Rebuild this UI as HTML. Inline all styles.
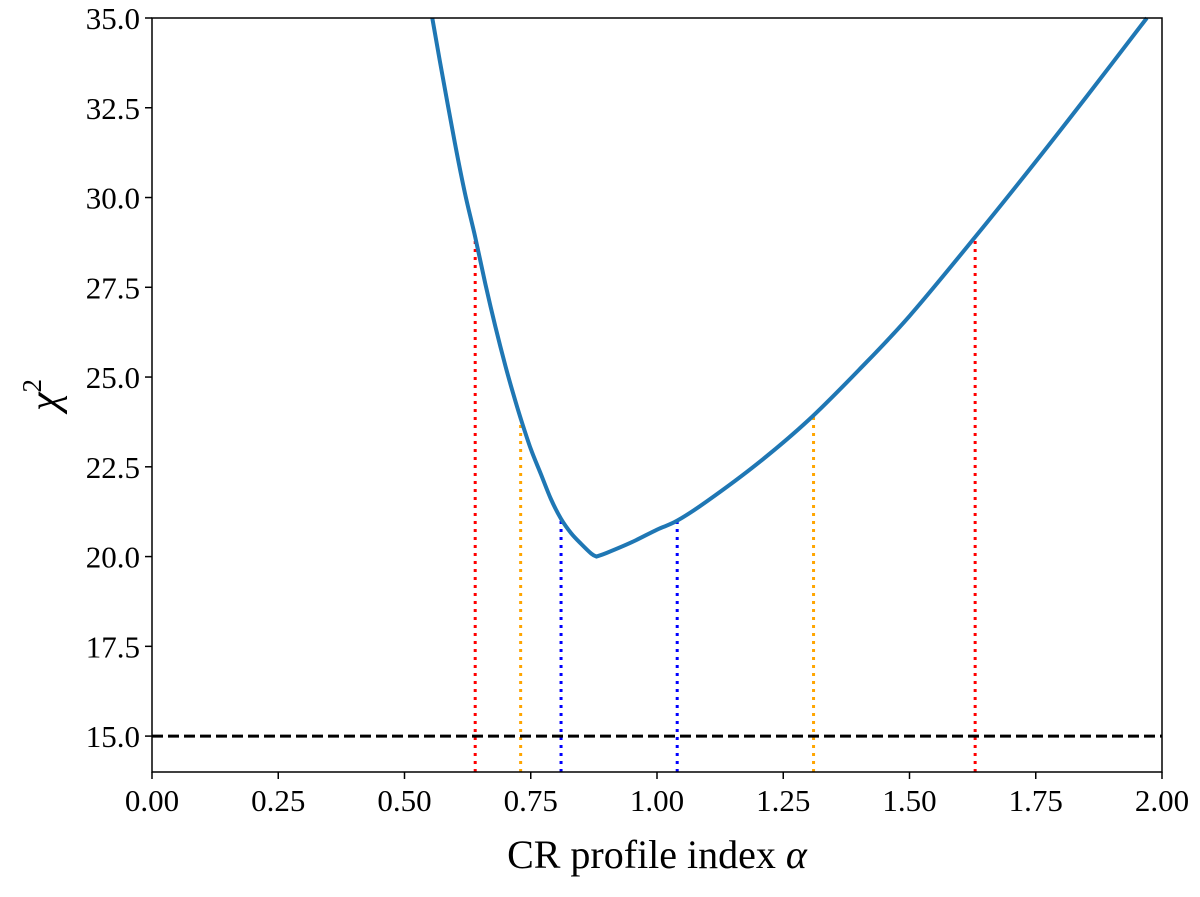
<!DOCTYPE html>
<html><head><meta charset="utf-8"><style>
body{margin:0;background:#fff}
svg text{font-family:"Liberation Serif",serif;fill:#000}
</style></head><body>
<svg id="chart" width="1200" height="892">
<g id="marks"></g>
<g id="axes"></g>
</svg>
<script>
const curveX=[0.555,0.57,0.60,0.62,0.64,0.66,0.68,0.70,0.715,0.73,0.75,0.77,0.79,0.81,0.83,0.85,0.87,0.88];
const curveY=[35.0,33.8,31.5,30.1,28.9,27.6,26.4,25.3,24.55,23.85,23.0,22.3,21.6,21.05,20.65,20.35,20.08,20.0];
const curve2X=[0.88,0.90,0.95,1.00,1.04,1.10,1.20,1.30,1.40,1.50,1.63,1.75,1.85,1.97];
const curve2Y=[20.0,20.1,20.4,20.75,21.0,21.55,22.6,23.8,25.2,26.7,28.9,31.0,32.8,35.0];
const vlineX=[0.64,1.63,0.73,1.31,0.81,1.04];
const vlineTop=[28.9,28.9,23.9,24.0,21.0,21.0];
const vlineColor=['#ff0000','#ff0000','#ffa500','#ffa500','#0000ff','#0000ff'];
const refLevel=15;
const xTicks=[0,0.25,0.5,0.75,1.0,1.25,1.5,1.75,2.0];
const xTickLabels=['0.00','0.25','0.50','0.75','1.00','1.25','1.50','1.75','2.00'];
const yTicks=[15,17.5,20,22.5,25,27.5,30,32.5,35];
const yTickLabels=['15.0','17.5','20.0','22.5','25.0','27.5','30.0','32.5','35.0'];
const L=152,R=1162,T=18,B=772,xmin=0,xmax=2,ymin=14,ymax=35;
const X=v=>L+(v-xmin)/(xmax-xmin)*(R-L);
const Y=v=>B-(v-ymin)/(ymax-ymin)*(B-T);
const NS='http://www.w3.org/2000/svg';
const marks=document.getElementById('marks'),axes=document.getElementById('axes');
function mk(tag,attrs,parent){const e=document.createElementNS(NS,tag);for(const k in attrs)e.setAttribute(k,attrs[k]);parent.appendChild(e);return e;}
function smooth(xs,ys){
 const p=xs.map((v,i)=>[X(v),Y(ys[i])]);
 let s='M'+p[0][0]+','+p[0][1];
 for(let i=0;i<p.length-1;i++){
  const p0=p[i-1]||p[i],p1=p[i],p2=p[i+1],p3=p[i+2]||p2;
  const c1=[p1[0]+(p2[0]-p0[0])/6,p1[1]+(p2[1]-p0[1])/6];
  const c2=[p2[0]-(p3[0]-p1[0])/6,p2[1]-(p3[1]-p1[1])/6];
  s+=' C'+c1[0]+','+c1[1]+' '+c2[0]+','+c2[1]+' '+p2[0]+','+p2[1];
 }
 return s;
}
for(let i=0;i<vlineX.length;i++){
 const l=mk('line',{x1:X(vlineX[i]),x2:X(vlineX[i]),y1:Y(ymin),y2:Y(vlineTop[i]),stroke:vlineColor[i],'stroke-width':3,'stroke-dasharray':'3,5'},marks);
 
 
}
const d=mk('line',{x1:L,x2:R,y1:Y(refLevel),y2:Y(refLevel),stroke:'#000','stroke-width':3,'stroke-dasharray':'11,5'},marks);


const c=mk('path',{d:smooth(curveX,curveY)+' '+smooth(curve2X,curve2Y).replace(/^M[^ ]+/,''),fill:'none',stroke:'#1f77b4','stroke-width':4,'stroke-linejoin':'round'},marks);


const f=mk('rect',{x:L,y:T,width:R-L,height:B-T,fill:'none',stroke:'#000','stroke-width':1.5},axes);


xTicks.forEach((v,i)=>{
 mk('line',{x1:X(v),x2:X(v),y1:B,y2:B+7,stroke:'#000','stroke-width':1.5},axes);
 const t=mk('text',{x:X(v),y:B+39,'text-anchor':'middle','font-size':31},axes);
 t.textContent=xTickLabels[i];
 
 
});
yTicks.forEach((v,i)=>{
 mk('line',{x1:L-7,x2:L,y1:Y(v),y2:Y(v),stroke:'#000','stroke-width':1.5},axes);
 const t=mk('text',{x:L-12,y:Y(v)+11,'text-anchor':'end','font-size':31},axes);
 t.textContent=yTickLabels[i];
 
 
});
const xt=mk('text',{x:X(1),y:868,'text-anchor':'middle','font-size':40},axes);
xt.innerHTML='CR profile index <tspan font-style="italic">α</tspan>';


const yt=mk('text',{x:0,y:0,'text-anchor':'middle','font-size':42,transform:'translate(58,395) rotate(-90)'},axes);
yt.innerHTML='<tspan font-style="italic">χ</tspan><tspan font-size="27" dy="-17">2</tspan>';


</script>
</body></html>
